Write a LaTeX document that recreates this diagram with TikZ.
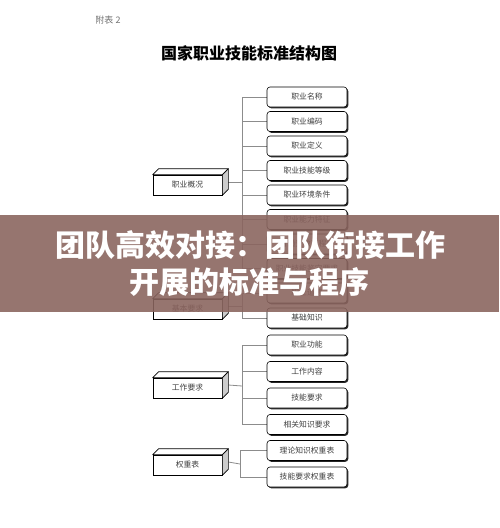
\documentclass[tikz,border=0pt]{standalone}
\usepackage{fontspec}
\setmainfont{Liberation Serif}
\newfontfamily\cjk{Noto Sans CJK SC}
\usetikzlibrary{shadows}
\definecolor{bannerbrown}{RGB}{138,100,94}

\begin{document}
\begin{tikzpicture}[x=1pt, y=-1pt,
    item/.style={draw=black, line width=0.6pt, rounded corners=3pt, fill=white,
                 minimum width=80pt, minimum height=20pt, inner sep=0pt,
                 font=\cjk\fontsize{7.8}{8}\selectfont, text=black!75,
                 drop shadow={shadow xshift=1.3pt, shadow yshift=-1.3pt,
                              opacity=1, fill=black!85}},
    part/.style={draw=black, line width=0.7pt, fill=white,
                 minimum width=69pt, minimum height=20pt, inner sep=0pt,
                 font=\cjk\fontsize{7.8}{8}\selectfont, text=black!75},
    face/.style={draw=black, line width=0.7pt, line join=round},
    link/.style={draw=black!45, line width=0.8pt},
]
\useasboundingbox[fill=white] (0,0) rectangle (499,528);
%% -- Heading --
\node[font=\cjk\fontsize{9}{9}\selectfont, text=black!55] (tag) at (108,20) {附表 2};
\node[font=\cjk\bfseries\fontsize{16}{16}\selectfont] (title) at (249,53) {国家职业技能标准结构图};
%% -- Junction points of the buses --
\coordinate (j1) at (242,182);
\coordinate (j2) at (242,306);
\coordinate (j3) at (242,386);
\coordinate (j4) at (240,464);
%% -- Right column positions --
\foreach \y [count=\i] in {97, 121.5, 146, 170.5, 195, 219.5, 244, 268.5,
    293, 318, 345, 371.5, 398, 424.5, 450.5, 477}{
  \coordinate (p\i) at (307,\y);
}
%% -- Buses and branches --
\draw[link] (p1 -| j1) -- (p8 -| j1);
\draw[link] (p9 -| j2) -- (p10 -| j2);
\draw[link] (p11 -| j3) -- (p14 -| j3);
\draw[link] (p15 -| j4) -- (p16 -| j4);
\foreach \i in {1,...,8}{\draw[link] (p\i -| j1) -- ([xshift=-40pt]p\i);}
\foreach \i in {9,10}{\draw[link] (p\i -| j2) -- ([xshift=-40pt]p\i);}
\foreach \i in {11,...,14}{\draw[link] (p\i -| j3) -- ([xshift=-40pt]p\i);}
\foreach \i in {15,16}{\draw[link] (p\i -| j4) -- ([xshift=-40pt]p\i);}
%% -- Right column boxes --
\foreach \t [count=\i] in {职业名称, 职业编码, 职业定义, 职业技能等级,
    职业环境条件, 职业能力特征, 普通受教育程度, 职业技能鉴定要求, 职业道德,
    基础知识, 职业功能, 工作内容, 技能要求, 相关知识要求, 理论知识权重表,
    技能要求权重表}{
  \node[item] (r\i) at (p\i) {\t};
}
%% -- Left column 3D boxes --
\node[part] (g1) at (187.5,185) {职业概况};
\node[part] (g2) at (187.5,309) {基本要求};
\node[part] (g3) at (187.5,388) {工作要求};
\node[part] (g4) at (187.5,465) {权重表};
\foreach \g/\j in {g1/j1, g2/j2, g3/j3, g4/j4}{
  \draw[link] ([shift={(6,-3)}]\g.east) -- (\j);
  \draw[face, fill=white] (\g.north west) -- ++(6,-6)
    -- ([shift={(6,-6)}]\g.north east) -- (\g.north east) -- cycle;
  \draw[face, fill=black!20] (\g.north east) -- ++(6,-6)
    -- ([shift={(6,-6)}]\g.south east) -- (\g.south east) -- cycle;
}
%% -- Banner over the chart --
\fill[bannerbrown, opacity=0.89] (0,215) rectangle (499,312);
\node[font=\cjk\bfseries\fontsize{30}{30}\selectfont, text=white] (head1) at (251,245)
  {团队高效对接：团队衔接工作};
\node[font=\cjk\bfseries\fontsize{30}{30}\selectfont, text=white] (head2) at (249,282)
  {开展的标准与程序};
\end{tikzpicture}
\end{document}
